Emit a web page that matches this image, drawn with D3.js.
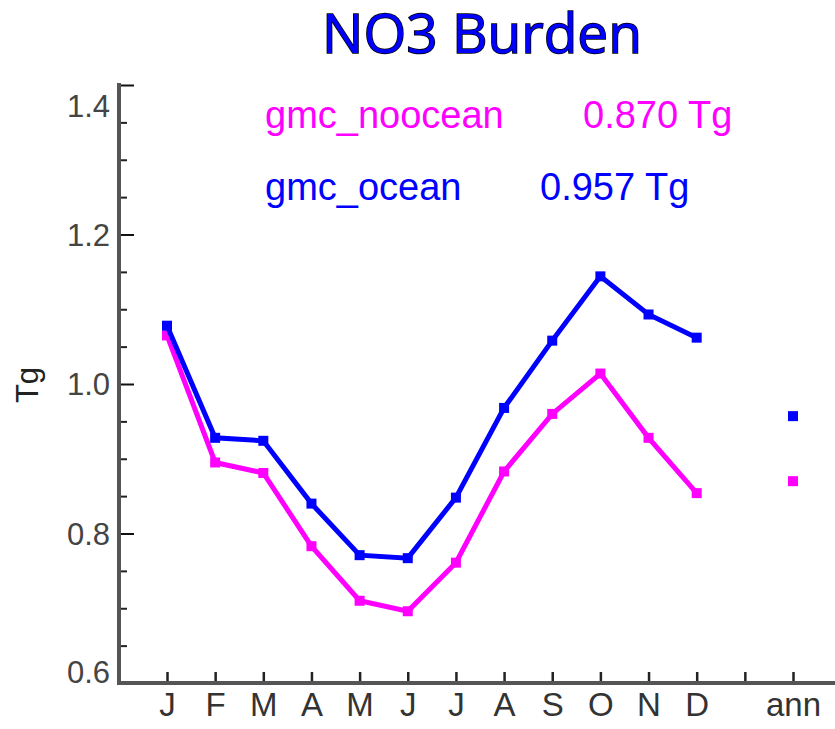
<!DOCTYPE html>
<html>
<head>
<meta charset="utf-8">
<script src="https://cdn.jsdelivr.net/npm/d3@7"></script>
<style>
body { margin: 0; background: #fff; }
svg { display: block; }
</style>
</head>
<body>
<script>
// chart values
var xLabels = ["J","F","M","A","M","J","J","A","S","O","N","D","","ann"];
var oceanVals = [1.078,0.928,0.924,0.840,0.771,0.767,0.848,0.968,1.058,1.144,1.093,1.062];
var nooceanVals = [1.065,0.895,0.881,0.783,0.710,0.696,0.761,0.883,0.960,1.014,0.928,0.854];
var annVals = {ocean: 0.957, noocean: 0.870};
var yTicks = [0.6,0.8,1.0,1.2,1.4];
var yMinor = [0.65,0.7,0.75,0.85,0.9,0.95,1.05,1.1,1.15,1.25,1.3,1.35];

var svgWidth = 835, svgHeight = 729;
var svg = d3.select("body").append("svg").attr("width",svgWidth).attr("height",svgHeight);

var x = d3.scaleLinear().domain([0,13]).range([167,793]);
var y = d3.scaleLinear().domain([0.6,1.4]).range([683,85]);

var axisColor = "#555";

// y minor ticks
svg.append("g").attr("transform","translate(119,0)")
  .call(d3.axisLeft(y).tickValues(yMinor).tickSize(-8).tickFormat(""))
  .call(g => g.select(".domain").remove())
  .call(g => g.selectAll("line").attr("stroke","#222").attr("stroke-width",2));

// y major ticks
var yAxis = svg.append("g").attr("transform","translate(119,0)")
  .call(d3.axisLeft(y).tickValues(yTicks).tickSize(-15).tickPadding(9).tickFormat(d3.format(".1f")))
  .call(g => g.select(".domain").remove());
yAxis.selectAll("line").attr("stroke","#111").attr("stroke-width",2);
yAxis.selectAll("text")
  .attr("font-family","'Liberation Sans', Arial, sans-serif")
  .attr("font-size",31).attr("fill","#444")
  .attr("dy",d => d == 1.4 ? "1.0em" : d == 0.6 ? "-0.02em" : "0.35em");

// x ticks
var xAxis = svg.append("g").attr("transform","translate(0,683)")
  .call(d3.axisBottom(x).tickValues(d3.range(14)).tickSize(-11).tickPadding(10).tickFormat(i => xLabels[i]))
  .call(g => g.select(".domain").remove());
xAxis.selectAll("line").attr("stroke","#222").attr("stroke-width",2.5);
xAxis.selectAll("text")
  .attr("font-family","'Liberation Sans', Arial, sans-serif")
  .attr("font-size",33).attr("fill","#333");

// axis lines
svg.append("line").attr("x1",119).attr("x2",119).attr("y1",83).attr("y2",685)
  .attr("stroke",axisColor).attr("stroke-width",4);
svg.append("line").attr("x1",117).attr("x2",835).attr("y1",683).attr("y2",683)
  .attr("stroke",axisColor).attr("stroke-width",4);

// series
var series = [
  {vals: nooceanVals, ann: annVals.noocean, color: "#ff00ff"},
  {vals: oceanVals, ann: annVals.ocean, color: "#0000ff"}
];
var line = d3.line().x((d,i) => x(i)).y(d => y(d));
var ms = 10;
series.forEach(function(s) {
  svg.append("path").datum(s.vals).attr("d",line)
    .attr("fill","none").attr("stroke",s.color).attr("stroke-width",5).attr("stroke-linejoin","miter");
  svg.selectAll(null).data(s.vals).enter().append("rect")
    .attr("x",(d,i) => x(i)-ms/2).attr("y",d => y(d)-ms/2)
    .attr("width",ms).attr("height",ms).attr("fill",s.color);
  svg.append("rect").attr("x",x(13)-ms/2).attr("y",y(s.ann)-ms/2)
    .attr("width",ms).attr("height",ms).attr("fill",s.color);
});

// legend text
var legFont = "'Liberation Sans', Arial, sans-serif";
function legend(tx, ty, str, color) {
  svg.append("text").attr("x",tx).attr("y",ty).attr("font-family",legFont).attr("font-size",38)
    .attr("fill",color).text(str);
}
legend(265, 128, "gmc_noocean", "#ff00ff");
legend(583, 128, annVals.noocean.toFixed(3) + " Tg", "#ff00ff");
legend(265, 200, "gmc_ocean", "#0000ff");
legend(540, 200, annVals.ocean.toFixed(3) + " Tg", "#0000ff");

// y label
svg.append("text").attr("transform","translate(38,385) rotate(-90)")
  .attr("text-anchor","middle").attr("font-family",legFont).attr("font-size",31)
  .attr("fill","#222").text("Tg");

// title
svg.append("text").attr("x",482).attr("y",53).attr("text-anchor","middle")
  .attr("font-family","'Open Sans', sans-serif").attr("font-weight",400).attr("font-size",55)
  .attr("fill","#0000ff").attr("stroke","#000").attr("stroke-width",1.5)
  .attr("paint-order","stroke").text("NO3 Burden");
</script>
</body>
</html>
